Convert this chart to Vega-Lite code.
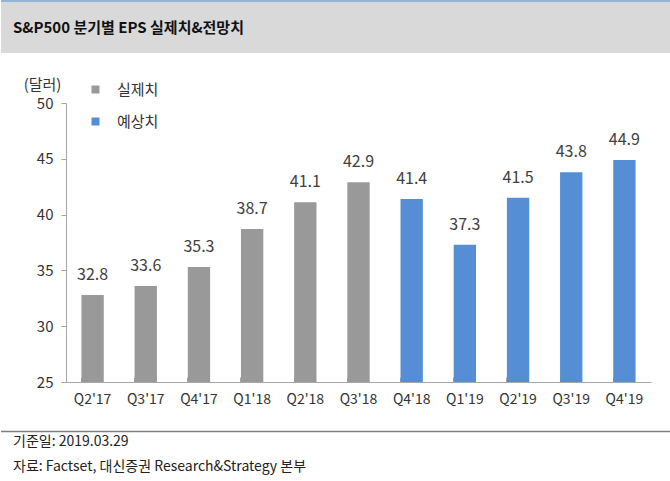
{
  "$schema": "https://vega.github.io/schema/vega-lite/v6.json",
  "padding": 0,
  "background": "white",
  "spacing": 24,
  "config": {"font": "Noto Sans CJK KR", "view": {"stroke": null}},
  "resolve": {"scale": {"color": "independent"}, "legend": {"color": "independent"}},
  "vconcat": [
    {
      "width": 670,
      "height": 53,
      "view": {"fill": "#d9d9d9", "stroke": null},
      "data": {"values": [{"heading": "S&P500 분기별 EPS 실제치&전망치"}]},
      "layer": [
        {
          "mark": {"type": "rule", "color": "#95b3d7", "strokeWidth": 2},
          "encoding": {"y": {"datum": 0.98, "type": "quantitative", "scale": {"domain": [0, 1]}, "axis": null}}
        },
        {
          "mark": {"type": "text", "align": "left", "baseline": "middle", "dx": 12, "fontSize": 15, "fontWeight": "bold", "color": "#111111"},
          "encoding": {
            "text": {"field": "heading"},
            "x": {"datum": 0, "type": "quantitative", "scale": {"domain": [0, 1]}, "axis": null},
            "y": {"datum": 0.47, "type": "quantitative", "scale": {"domain": [0, 1]}, "axis": null}
          }
        }
      ]
    },
    {
      "spacing": 0,
      "resolve": {"scale": {"color": "independent"}, "legend": {"color": "independent"}},
      "hconcat": [
        {
          "width": 22,
          "height": 10,
          "data": {"values": []},
          "mark": "point"
        },
        {
          "width": 585,
          "height": 279,
          "data": {"values": [
            {"q": "Q2'17", "eps": 32.8, "type": "실제치"},
            {"q": "Q3'17", "eps": 33.6, "type": "실제치"},
            {"q": "Q4'17", "eps": 35.3, "type": "실제치"},
            {"q": "Q1'18", "eps": 38.7, "type": "실제치"},
            {"q": "Q2'18", "eps": 41.1, "type": "실제치"},
            {"q": "Q3'18", "eps": 42.9, "type": "실제치"},
            {"q": "Q4'18", "eps": 41.4, "type": "예상치"},
            {"q": "Q1'19", "eps": 37.3, "type": "예상치"},
            {"q": "Q2'19", "eps": 41.5, "type": "예상치"},
            {"q": "Q3'19", "eps": 43.8, "type": "예상치"},
            {"q": "Q4'19", "eps": 44.9, "type": "예상치"}
          ]},
          "encoding": {
            "x": {
              "field": "q", "type": "nominal", "sort": null,
              "scale": {"paddingInner": 0.58, "paddingOuter": 0.29},
              "axis": {
                "title": null, "labelAngle": 0, "labelFontSize": 14, "labelColor": "#333333",
                "labelPadding": 15, "domainColor": "#a6a6a6", "tickColor": "#a6a6a6",
                "bandPosition": 0, "tickSize": -5
              }
            },
            "y": {
              "field": "eps", "type": "quantitative",
              "scale": {"domain": [25, 50], "zero": false},
              "axis": {
                "values": [25, 30, 35, 40, 45, 50], "grid": false,
                "labelFontSize": 15, "labelColor": "#333333", "labelPadding": 8,
                "tickSize": 5, "domainColor": "#a6a6a6", "tickColor": "#a6a6a6",
                "title": "(달러)", "titleAngle": 0, "titleAlign": "center", "titleBaseline": "middle",
                "titleX": -24, "titleY": -19, "titleFontSize": 15, "titleFontWeight": "normal", "titleColor": "#333333"
              }
            }
          },
          "layer": [
            {
              "mark": {"type": "bar"},
              "encoding": {
                "y2": {"datum": 25},
                "color": {
                  "field": "type", "type": "nominal",
                  "scale": {"domain": ["실제치", "예상치"], "range": ["#999999", "#558ed5"]},
                  "legend": {
                    "orient": "none", "legendX": 22, "legendY": -21, "title": null,
                    "symbolType": "square", "symbolSize": 64, "symbolStrokeWidth": 0,
                    "labelFontSize": 15, "labelColor": "#333333", "labelOffset": 14,
                    "rowPadding": 16, "padding": 0
                  }
                }
              }
            },
            {
              "mark": {"type": "text", "baseline": "bottom", "dy": -12, "fontSize": 16, "color": "#404040"},
              "encoding": {"text": {"field": "eps", "type": "quantitative", "format": ".1f"}}
            }
          ]
        }
      ]
    },
    {
      "width": 670,
      "height": 51,
      "data": {"values": [{"note": "기준일: 2019.03.29", "source": "자료: Factset, 대신증권 Research&Strategy 본부"}]},
      "layer": [
        {
          "mark": {"type": "rule", "color": "#7f7f7f", "strokeWidth": 1.5},
          "encoding": {"y": {"datum": 0.97, "type": "quantitative", "scale": {"domain": [0, 1]}, "axis": null}}
        },
        {
          "mark": {"type": "text", "align": "left", "baseline": "middle", "dx": 12, "fontSize": 14, "color": "#222222"},
          "encoding": {
            "text": {"field": "note"},
            "x": {"datum": 0, "type": "quantitative", "scale": {"domain": [0, 1]}, "axis": null},
            "y": {"datum": 0.77, "type": "quantitative", "scale": {"domain": [0, 1]}, "axis": null}
          }
        },
        {
          "mark": {"type": "text", "align": "left", "baseline": "middle", "dx": 12, "fontSize": 14, "color": "#222222"},
          "encoding": {
            "text": {"field": "source"},
            "x": {"datum": 0, "type": "quantitative", "scale": {"domain": [0, 1]}, "axis": null},
            "y": {"datum": 0.28, "type": "quantitative", "scale": {"domain": [0, 1]}, "axis": null}
          }
        }
      ]
    }
  ]
}
